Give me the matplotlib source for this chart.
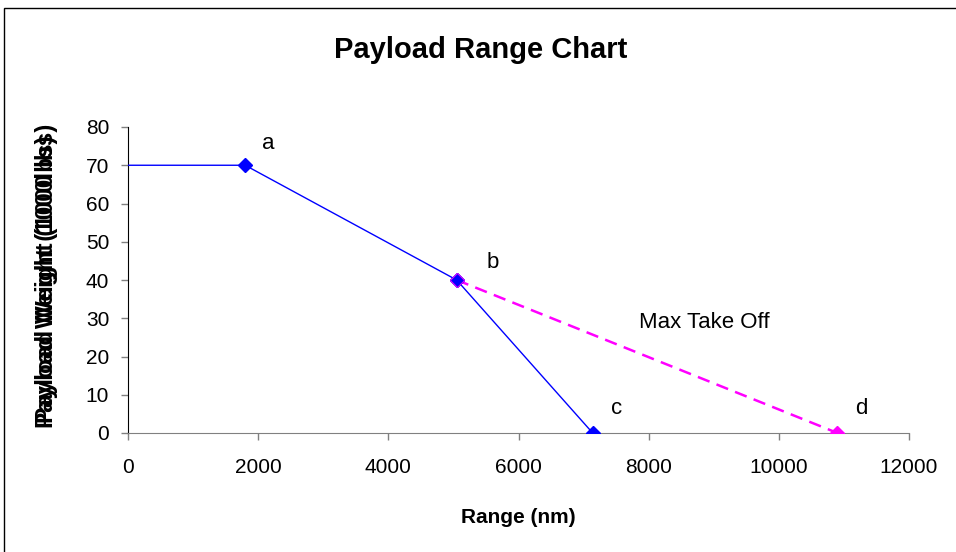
import matplotlib
matplotlib.use("Agg")
import matplotlib.pyplot as plt
from matplotlib.patches import Rectangle

plt.rcParams['font.family'] = ['Liberation Sans', 'DejaVu Sans']

# Payload-range envelope (range in nm, payload in 1000 lbs)
range_nm = [0, 1800, 5050, 7140]
payload = [70, 70, 40, 0]
point_names = ['a', 'b', 'c']

# Max take-off weight line
mto_range = [5050, 10900]
mto_payload = [40, 0]
mto_name = 'd'

x_ticks = [0, 2000, 4000, 6000, 8000, 10000, 12000]
y_ticks = [0, 10, 20, 30, 40, 50, 60, 70, 80]

fig = plt.figure(figsize=(9.56, 5.52), dpi=100)
fig.patches.append(Rectangle((4 / 956, -0.1), 1.2, 1 - 8 / 552 + 0.1,
                             transform=fig.transFigure, fill=False,
                             edgecolor='#000000', linewidth=1.0))

ax = fig.add_axes([128 / 956, 1 - 433 / 552, 781 / 956, 306 / 552])

ax.plot(range_nm, payload, color='#0000FF', linewidth=1.0, zorder=3)
ax.plot(range_nm[1:], payload[1:], linestyle='none', marker='D',
        markersize=7, color='#0000FF', zorder=5)
ax.plot(mto_range, mto_payload, color='#FF00FF', linewidth=1.8,
        linestyle=(0, (5, 3)), marker='D', markersize=7,
        markerfacecolor='#FF00FF', markeredgecolor='#FF00FF', zorder=4)
# point b sits on both lines; blue marker stays on top
ax.plot([range_nm[2]], [payload[2]], linestyle='none', marker='D',
        markersize=7, color='#0000FF', markeredgecolor='#FF00FF',
        markeredgewidth=0.6, zorder=6)

# point names sit up and to the right of each marker
label_pos = [(2150, 75.6), (5610, 44.7), (7515, 6.3)]
for name, (lx, ly) in zip(point_names, label_pos):
    ax.text(lx, ly, name, fontsize=16, ha='center', va='center')
ax.text(11265, 6.3, mto_name, fontsize=16, ha='center', va='center')
ax.text(8850, 29, 'Max Take Off', fontsize=16, ha='center', va='center')

ax.set_xlim(0, 12000)
ax.set_ylim(0, 80)
ax.set_xticks(x_ticks)
ax.set_yticks(y_ticks)
ax.tick_params(axis='both', direction='out', length=5, width=1,
               color='#808080', labelsize=15)
ax.tick_params(axis='x', pad=13)
ax.tick_params(axis='y', pad=8.5)
ax.spines['top'].set_visible(False)
ax.spines['right'].set_visible(False)
ax.spines['left'].set_color('#000000')
ax.spines['bottom'].set_color('#808080')

ax.set_xlabel('Range (nm)', fontsize=15, fontweight='bold', labelpad=22)

fig.text(47 / 956, 1 - 273 / 552, 'Payload Weight (1000 lbs)', rotation=90,
         fontsize=17.5, fontweight='bold', ha='center', va='center')
fig.text(47 / 956, 1 - 282 / 552, 'Payload Weight (1000lbs)', rotation=90,
         fontsize=17.5, fontweight='bold', ha='center', va='center')

fig.text(481 / 956, 1 - 50 / 552, 'Payload Range Chart', fontsize=21,
         fontweight='bold', ha='center', va='center')

fig.savefig('out.png', dpi=100)
